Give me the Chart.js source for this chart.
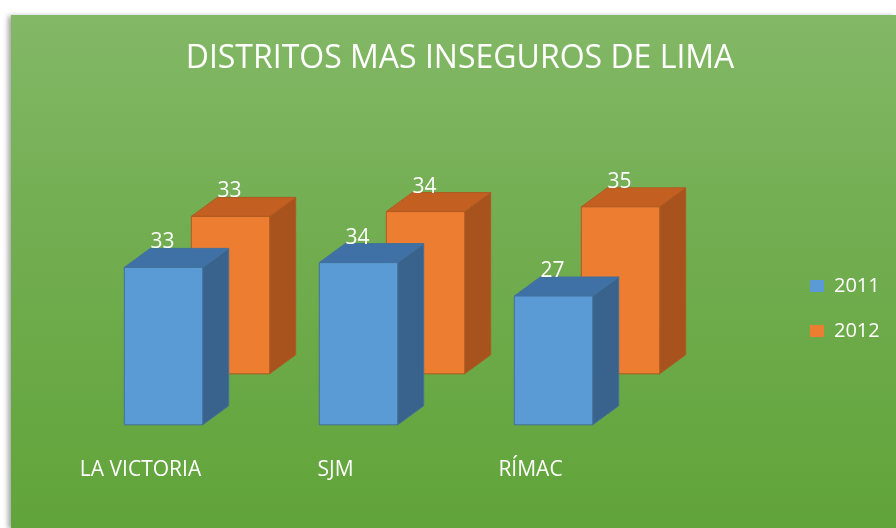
<!DOCTYPE html>
<html><head><meta charset="utf-8">
<script src="https://cdn.jsdelivr.net/npm/chart.js@4/dist/chart.umd.min.js"></script>
<style>
html,body{margin:0;padding:0;background:#fff;width:896px;height:528px;overflow:hidden;}
#panel{position:absolute;left:11px;top:15px;width:885px;height:513px;background:linear-gradient(to bottom,#83b866 0%,#73ae52 40%,#61a43a 100%);box-shadow:-3px 1px 5px rgba(0,0,0,0.35);}
#wrap{position:absolute;left:0;top:0;width:896px;height:528px;}
</style></head>
<body><div id="panel"></div><div id="wrap"><canvas id="c" width="896" height="528"></canvas></div>
<script>
const categories = ['LA VICTORIA', 'SJM', 'RÍMAC'];
const series2011 = [33, 34, 27];
const series2012 = [33, 34, 35];
const seriesNames = ['2011', '2012'];
const chartTitle = 'DISTRITOS MAS INSEGUROS DE LIMA';

const FONT = "'Open Sans', 'Noto Sans', sans-serif";
const depth = {dx: 26, dy: -19};
const backShift = [{dx: 0, dy: 0}, {dx: 67, dy: -51}];
const faces = [
  {front: '#5b9bd5', top: '#3f71a6', side: '#39638d', line: '#41719c'},
  {front: '#ed7d31', top: '#c45f22', side: '#a8531d', line: '#ae5a21'}
];

function poly(ctx, pts, fill, stroke) {
  ctx.beginPath();
  ctx.moveTo(pts[0][0], pts[0][1]);
  for (let i = 1; i < pts.length; i++) ctx.lineTo(pts[i][0], pts[i][1]);
  ctx.closePath();
  ctx.fillStyle = fill; ctx.fill();
  ctx.strokeStyle = stroke; ctx.lineWidth = 1; ctx.stroke();
}

const bars3d = {
  id: 'bars3d',
  afterLayout(chart) {
    const lg = chart.legend;
    const w = lg.width, h = lg.height;
    lg.left = 785; lg.right = 785 + w;
    lg.top = 251; lg.bottom = 251 + h;
  },
  beforeDatasetsDraw(chart) {
    const ctx = chart.ctx;
    ctx.save();
    const labels = [];
    [1, 0].forEach(di => {
      const meta = chart.getDatasetMeta(di);
      const sh = backShift[di];
      const c = faces[di];
      const vals = chart.data.datasets[di].data;
      meta.data.forEach((bar, i) => {
        const p = bar.getProps(['x', 'y', 'base', 'width'], true);
        const l = p.x - p.width / 2 + sh.dx, r = p.x + p.width / 2 + sh.dx;
        const t = p.y + sh.dy, b = p.base + sh.dy;
        const dx = depth.dx, dy = depth.dy;
        poly(ctx, [[r, t], [r + dx, t + dy], [r + dx, b + dy], [r, b]], c.side, c.line);
        poly(ctx, [[l, t], [l + dx, t + dy], [r + dx, t + dy], [r, t]], c.top, c.line);
        poly(ctx, [[l, t], [r, t], [r, b], [l, b]], c.front, c.line);
        labels.push({x: p.x + sh.dx - 1, y: t + dy, text: String(vals[i])});
      });
    });
    ctx.fillStyle = '#ffffff';
    ctx.font = "21px " + FONT;
    ctx.textAlign = 'center';
    ctx.textBaseline = 'alphabetic';
    labels.forEach(lb => ctx.fillText(lb.text, lb.x, lb.y));
    ctx.restore();
    return false;
  }
};

new Chart(document.getElementById('c'), {
  type: 'bar',
  data: {
    labels: categories,
    datasets: [
      {label: seriesNames[0], data: series2011, backgroundColor: faces[0].front, borderWidth: 0, grouped: false, barPercentage: 0.402, categoryPercentage: 1},
      {label: seriesNames[1], data: series2012, backgroundColor: faces[1].front, borderWidth: 0, grouped: false, barPercentage: 0.402, categoryPercentage: 1}
    ]
  },
  options: {
    responsive: false,
    devicePixelRatio: 1,
    animation: false,
    layout: {padding: {left: 24, right: 0, top: 0, bottom: 12}},
    plugins: {
      title: {display: true, text: chartTitle, color: '#ffffff', font: {family: FONT, size: 32, weight: 'normal'}, padding: {top: 40, bottom: 155.6}},
      legend: {
        position: 'chartArea', align: 'start',
        labels: {color: '#ffffff', font: {family: FONT, size: 20}, boxWidth: 14, boxHeight: 12, padding: 25}
      },
      tooltip: {enabled: false}
    },
    scales: {
      x: {
        grid: {display: false, drawTicks: false}, border: {display: false},
        ticks: {color: '#ffffff', font: {family: FONT, size: 21}, padding: 33, labelOffset: -23, maxRotation: 0}
      },
      y: {
        min: 0, max: 40, position: 'left',
        grid: {display: false, drawTicks: false}, border: {display: false},
        ticks: {display: false},
        afterFit: s => { s.width = 42; }
      },
      yR: {
        type: 'linear', position: 'right',
        grid: {display: false, drawTicks: false}, border: {display: false},
        ticks: {display: false},
        afterFit: s => { s.width = 245; }
      }
    }
  },
  plugins: [bars3d]
});
</script>
</body></html>
